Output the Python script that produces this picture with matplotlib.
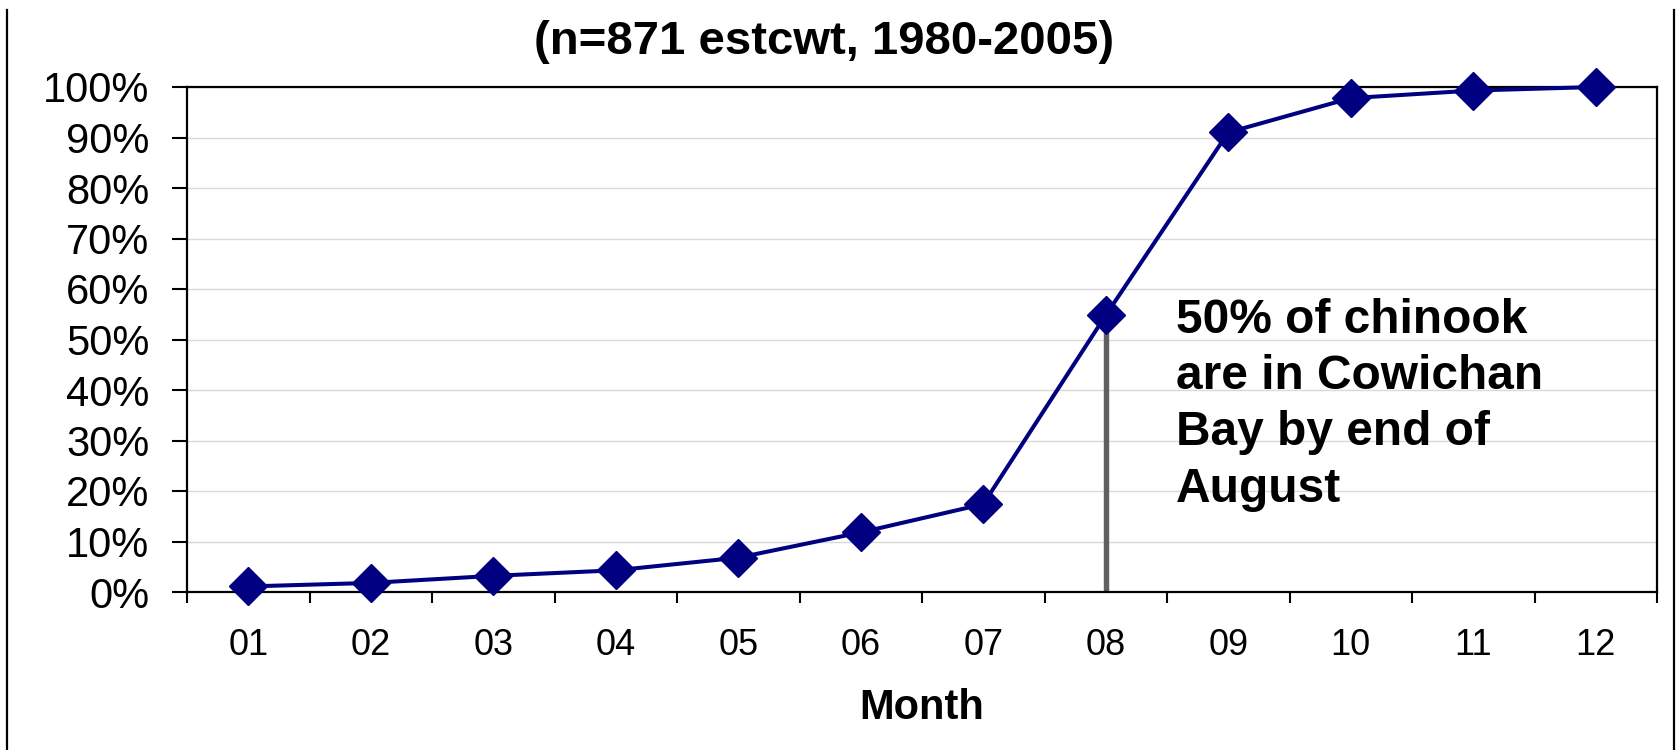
import matplotlib
matplotlib.use("Agg")
import matplotlib.pyplot as plt
from matplotlib.ticker import PercentFormatter, FixedLocator
from matplotlib.lines import Line2D

months = ["01", "02", "03", "04", "05", "06", "07", "08", "09", "10", "11", "12"]
cumulative = [0.011, 0.018, 0.032, 0.043, 0.068, 0.118, 0.174, 0.548, 0.910, 0.978, 0.993, 1.000]
marker_month = "08"
marker_top = 0.54
title = "(n=871 estcwt, 1980-2005)"
xlabel = "Month"
note = "50% of chinook\nare in Cowichan\nBay by end of\nAugust"

plt.rcParams["font.family"] = ["Liberation Sans", "DejaVu Sans"]

W, H = 1676, 750
fig = plt.figure(figsize=(W / 100, H / 100), dpi=100)
ax = fig.add_axes([187 / W, 1 - 592 / H, (1657 - 187) / W, (592 - 87) / H])

x = list(range(len(months)))
mi = months.index(marker_month)
ax.vlines(mi, 0, marker_top, color="#606060", linewidth=3.9, zorder=2)
ax.plot(x, cumulative, color="#000080", linewidth=2.9, marker="D",
        markersize=19, markerfacecolor="#000080", markeredgecolor="#000080",
        zorder=3, clip_on=False)

ax.set_xlim(-0.5, len(months) - 0.5)
ax.set_ylim(0, 1)
ax.set_xticks(x)
ax.set_xticklabels(months, fontsize=26)
ax.xaxis.set_minor_locator(FixedLocator([i - 0.5 for i in range(len(months) + 1)]))
ax.tick_params(axis="x", which="major", length=0, pad=26)
ax.tick_params(axis="x", which="minor", length=8, width=1.5, direction="out")
ax.set_yticks([i / 10 for i in range(11)])
ax.yaxis.set_major_formatter(PercentFormatter(1.0, decimals=0))
ax.tick_params(axis="y", labelsize=30, length=11, width=1.5, direction="out", pad=16)
ax.grid(axis="y", color="#d9d9d9", linewidth=1.0, zorder=0)
ax.set_axisbelow(True)
for s in ax.spines.values():
    s.set_linewidth(1.6)
    s.set_color("black")

ax.set_xlabel(xlabel, fontsize=30, fontweight="bold", labelpad=18)
fig.text(824 / W, 1 - 54 / H, title, fontsize=34, fontweight="bold",
         ha="center", va="baseline")
ax.text((1176 - 187) / 1470, (592 - 298) / 505, note, transform=ax.transAxes,
        fontsize=34.5, fontweight="bold", ha="left", va="top", linespacing=1.32)

fig.add_artist(Line2D([7 / W, 7 / W], [0, 1 - 10 / H], color="black", linewidth=1.6,
                      transform=fig.transFigure))
fig.add_artist(Line2D([1674 / W, 1674 / W], [0, 1 - 10 / H], color="black", linewidth=1.6,
                      transform=fig.transFigure))

fig.savefig("out.png", dpi=100)
